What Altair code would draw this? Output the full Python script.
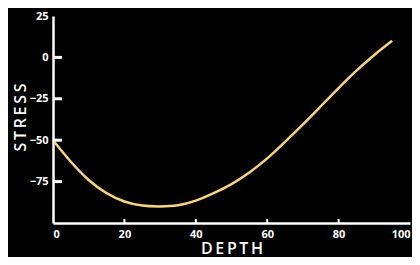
import altair as alt
import pandas as pd

depth = [0, 5, 10, 15, 20, 25, 30, 35, 40, 45, 50, 55, 60, 65, 70, 75, 80, 85, 90, 95]
stress = [-50, -63, -74, -82, -87, -89.5, -90, -89.3, -86.5, -82, -76.5, -69.5, -61, -51, -40.5, -29.5, -18.5, -8, 1.5, 10]
x_ticks = [0, 20, 40, 60, 80, 100]
y_ticks = [-75, -50, -25, 0, 25]
x_inner_ticks = [20, 40, 60, 80]
y_inner_ticks = [-75, -50, -25, 0]

df = pd.DataFrame({"depth": depth, "stress": stress})
xt = pd.DataFrame({"depth": x_inner_ticks})
yt = pd.DataFrame({"stress": y_inner_ticks})

xs = alt.Scale(domain=[0, 100], nice=False)
ys = alt.Scale(domain=[-100, 25], nice=False)

line = alt.Chart(df).mark_line(
    color="#f7d57e", strokeWidth=2.5, interpolate="natural"
).encode(
    x=alt.X("depth:Q", title="D\u2009E\u2009P\u2009T\u2009H", scale=xs,
            axis=alt.Axis(values=x_ticks, titleY=30, titleBaseline="alphabetic")),
    y=alt.Y("stress:Q", title="S\u2009T\u2009R\u2009E\u2009S\u2009S", scale=ys,
            axis=alt.Axis(values=y_ticks, titleX=-28, titleY=101,
                          titleBaseline="alphabetic", titleAlign="center", titleAngle=270)),
)

xtick = alt.Chart(xt).mark_rule(color="white", strokeWidth=2).encode(
    x=alt.X("depth:Q", scale=xs),
    y=alt.value(207), y2=alt.value(203),
)
ytick = alt.Chart(yt).mark_rule(color="white", strokeWidth=3).encode(
    y=alt.Y("stress:Q", scale=ys),
    x=alt.value(0), x2=alt.value(9),
)

chart = alt.layer(line, xtick, ytick).properties(
    width=357, height=207,
    autosize=alt.AutoSizeParams(type="none"),
    padding={"left": 45, "top": 8, "right": 2, "bottom": 34},
    background="black",
).configure_view(
    stroke=None
).configure_axis(
    domainColor="white", domainWidth=2.5,
    ticks=False, labelPadding=5,
    labelColor="white", labelFont="Open Sans", labelFontWeight="bold", labelFontSize=11,
    titleColor="white", titleFont="Open Sans", titleFontWeight=600, titleFontSize=16,
    grid=False,
)

chart.save("out.html", embed_options={"renderer": "svg", "actions": False})
